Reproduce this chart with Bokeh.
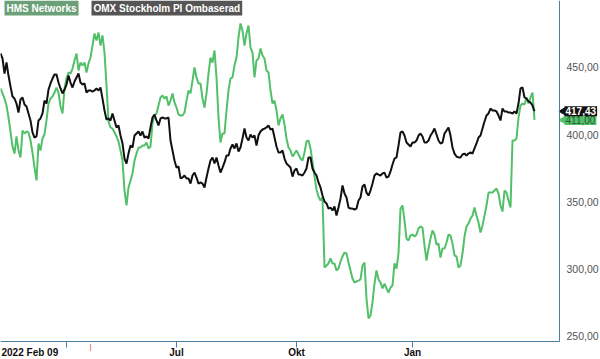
from bokeh.plotting import figure
from bokeh.models import Range1d, FixedTicker, Label
from bokeh.embed import file_html
from bokeh.resources import INLINE

# HMS Networks (rebased), one value per sampling step
hms = [434.4, 430.7, 426.9, 421.7, 412.8, 402.4, 391.2, 386.0, 398.7, 388.3,
       383.1, 403.1, 400.9, 402.4, 401.7, 395.7, 386.8, 375.6, 366.0, 393.5,
       388.3, 397.2, 400.2, 410.6, 423.2, 426.9, 428.4, 431.4, 435.1, 431.4,
       421.0, 415.8, 434.4, 441.8, 446.3, 445.5, 449.2, 455.2, 460.4, 447.8,
       453.7, 451.5, 453.7, 446.3, 453.0, 457.4, 466.3, 475.3, 470.1, 476.0,
       466.3, 473.8, 461.1, 436.6, 409.8, 405.4, 404.6, 401.7, 398.7, 395.0,
       388.3, 380.8, 358.5, 347.4, 360.8, 366.0, 371.2, 380.8, 386.0, 390.5,
       390.5, 392.0, 392.0, 394.2, 389.8, 391.3, 408.3, 414.3, 415.8, 421.7,
       427.7, 429.2, 426.9, 428.4, 421.7, 425.4, 430.7, 424.0, 420.2, 415.0,
       414.3, 414.3, 416.5, 425.4, 432.9, 430.7, 440.3, 450.0, 442.6, 438.1,
       438.1, 426.9, 420.2, 430.7, 445.5, 457.4, 453.7, 462.6, 442.6, 412.8,
       394.2, 400.9, 400.9, 418.0, 432.9, 441.8, 442.6, 451.5, 457.4, 472.3,
       482.7, 477.5, 466.3, 475.3, 481.2, 464.9, 461.1, 442.6, 455.2, 456.7,
       464.1, 458.9, 456.7, 447.8, 446.3, 432.9, 423.2, 425.4, 418.0, 406.9,
       412.1, 415.0, 407.6, 397.2, 390.5, 388.3, 383.8, 386.0, 388.3, 385.3,
       382.3, 380.8, 386.8, 395.0, 395.7, 389.8, 379.4, 368.9, 359.3, 354.1,
       351.1, 353.3, 301.3, 302.8, 304.3, 308.0, 304.3, 304.3, 299.1, 300.5,
       305.7, 309.5, 312.4, 311.7, 305.0, 299.1, 293.1, 290.1, 290.9, 291.6,
       292.4, 302.8, 305.0, 278.2, 263.4, 265.6, 275.3, 289.4, 299.1, 292.4,
       290.1, 285.7, 289.4, 285.7, 282.7, 286.4, 287.9, 304.3, 300.5, 311.7,
       345.1, 347.4, 336.2, 322.8, 321.4, 325.1, 325.8, 324.3, 325.8, 330.3,
       331.8, 331.0, 317.6, 306.5, 315.4, 322.8, 328.8, 325.8, 318.4, 319.1,
       308.7, 315.4, 315.4, 319.9, 325.8, 325.1, 319.1, 310.2, 309.5, 301.3,
       302.8, 311.7, 324.3, 331.8, 334.0, 337.7, 339.9, 345.9, 339.9, 334.7,
       327.3, 332.5, 339.9, 347.4, 357.0, 357.0, 357.0, 358.5, 360.0, 356.3,
       347.4, 342.9, 358.5, 357.0, 351.1, 345.9, 395.7, 395.7, 397.2, 412.8,
       421.7, 423.2, 422.5, 427.7, 423.2, 427.7, 431.4, 411.0]

# OMX Stockholm PI (rebased)
omx = [460.4, 456.7, 445.5, 453.7, 444.0, 435.9, 428.4, 426.9, 423.2, 416.5,
       426.2, 427.7, 422.5, 421.0, 415.8, 410.6, 401.7, 397.9, 398.7, 410.6,
       412.1, 415.8, 425.4, 423.2, 433.6, 438.1, 441.8, 444.8, 444.8, 438.8,
       434.4, 430.7, 433.6, 437.3, 444.0, 438.8, 435.1, 439.6, 442.6, 445.5,
       438.8, 437.3, 438.1, 431.4, 432.9, 432.9, 432.1, 432.9, 434.4, 432.9,
       435.1, 426.9, 418.0, 411.3, 412.1, 410.6, 415.8, 410.6, 405.4, 406.9,
       399.4, 393.5, 382.3, 378.6, 386.0, 392.0, 390.5, 399.4, 400.9, 402.4,
       399.4, 402.4, 397.9, 398.7, 397.2, 405.4, 412.8, 415.0, 410.6, 406.9,
       412.1, 412.8, 412.1, 412.1, 412.8, 395.7, 388.3, 380.8, 375.6, 376.4,
       367.5, 368.2, 369.7, 367.5, 367.5, 363.7, 369.7, 371.9, 368.2, 363.7,
       364.5, 363.7, 360.8, 368.2, 374.9, 380.8, 383.1, 378.6, 383.1, 377.1,
       371.9, 375.6, 379.4, 384.6, 384.6, 389.8, 392.7, 389.8, 393.5, 387.5,
       390.5, 397.2, 404.6, 397.9, 395.7, 400.2, 397.9, 399.4, 392.0, 399.4,
       402.4, 403.9, 404.6, 405.4, 406.9, 403.9, 404.6, 397.9, 391.3, 386.8,
       386.8, 388.3, 382.3, 378.6, 377.1, 375.6, 368.9, 373.4, 374.9, 370.4,
       370.4, 369.7, 371.9, 374.9, 383.1, 383.1, 374.9, 371.9, 369.7, 364.5,
       360.8, 354.8, 350.4, 348.9, 345.1, 345.9, 343.7, 346.6, 339.9, 345.9,
       352.6, 362.3, 356.3, 353.3, 345.9, 345.1, 345.1, 344.4, 345.1, 351.1,
       353.3, 361.5, 363.0, 357.0, 354.8, 358.5, 363.7, 369.7, 371.2, 370.4,
       369.7, 371.2, 371.9, 368.2, 368.9, 372.7, 377.9, 382.3, 383.1, 392.0,
       401.7, 402.4, 399.4, 394.2, 392.7, 391.3, 394.2, 394.2, 395.7, 399.4,
       400.9, 398.7, 394.2, 394.2, 395.7, 399.4, 401.7, 404.6, 400.2, 395.7,
       393.5, 394.2, 400.9, 403.1, 405.4, 399.4, 390.5, 386.0, 383.8, 383.1,
       383.1, 385.3, 386.0, 384.6, 386.0, 386.8, 386.0, 389.8, 393.5, 397.9,
       399.4, 404.6, 409.8, 414.3, 415.8, 419.5, 418.0, 418.0, 417.3, 414.3,
       410.6, 419.5, 417.3, 417.3, 416.5, 416.5, 415.8, 417.3, 415.8, 423.2,
       434.4, 435.1, 427.7, 426.9, 424.7, 424.0, 421.7, 417.43]

series_names = ["HMS Networks", "OMX Stockholm PI Ombaserad"]
last_hms = 411.00
last_omx = 417.43

# x-axis ticks (sampling-step positions) and their labels
x_tick_pos = [33, 88, 148, 206]
x_tick_text = ["", "Jul", "Okt", "Jan"]
start_label = "2022 Feb 09"
event_pos = [45]
y_ticks = [250, 300, 350, 400, 450]

GREEN = "#52c069"
AXIS = "#4a7ea3"
FONT = "Liberation Sans"

# plotting area limits (axes are drawn at these positions)
X0, X1 = 0, 279.5
Y0, Y1 = 246.3, 499.8

x = list(range(len(hms)))

p = figure(frame_width=600, frame_height=359, output_backend="svg", toolbar_location=None,
           x_axis_location="below", y_axis_location="right",
           x_range=Range1d(X0, 300), y_range=Range1d(232.9, Y1),
           min_border_left=0, min_border_top=0, min_border_right=0, min_border_bottom=0)
p.outline_line_color = None
p.xgrid.visible = False
p.ygrid.visible = False
p.background_fill_color = "white"
p.border_fill_color = "white"

p.line(x, hms, color=GREEN, line_width=2)
p.line(x, omx, color="#111111", line_width=2)

ya = p.yaxis[0]
ya.fixed_location = X1
ya.bounds = (Y0, Y1)
ya.ticker = FixedTicker(ticks=y_ticks)
ya.major_label_overrides = {v: f"{v},00" for v in y_ticks}
ya.axis_line_color = AXIS
ya.major_tick_in = 0
ya.major_tick_out = 0
ya.minor_tick_line_color = None
ya.major_label_standoff = 7
ya.major_label_text_font = FONT
ya.major_label_text_font_size = "10.5px"
ya.major_label_text_color = "#555555"

xa = p.xaxis[0]
xa.fixed_location = Y0
xa.bounds = (X0, X1)
xa.ticker = FixedTicker(ticks=x_tick_pos)
xa.major_label_overrides = {pos: t for pos, t in zip(x_tick_pos, x_tick_text)}
xa.axis_line_color = AXIS
xa.major_tick_line_color = AXIS
xa.major_tick_in = 0
xa.major_tick_out = 6
xa.minor_tick_line_color = None
xa.major_label_standoff = 0
xa.major_label_text_font = FONT
xa.major_label_text_font_size = "10px"
xa.major_label_text_font_style = "bold"
xa.major_label_text_color = "#111111"

# start date label, left aligned
p.add_layout(Label(x=X0, y=Y0, text=start_label, x_offset=1,
                   text_font=FONT, text_font_size="10px", text_font_style="bold",
                   text_color="#111111", text_align="left", text_baseline="top",
                   y_offset=-6))
for ep in event_pos:
    p.add_layout(Label(x=ep, y=Y0, text="|", text_font=FONT,
                       text_font_size="8px", text_color="#e04040",
                       text_align="center", text_baseline="top", y_offset=-1))

# legend boxes
def legend_box(xoff, text, fill, under):
    p.add_layout(Label(x=X0, y=Y1, text=text, x_offset=xoff, y_offset=-2,
                       text_font=FONT, text_font_size="10px", text_font_style="bold",
                       text_alpha=0, text_align="left", text_baseline="top",
                       background_fill_color=under, padding=2))
    p.add_layout(Label(x=X0, y=Y1, text=text, x_offset=xoff, y_offset=0,
                       text_font=FONT, text_font_size="10px", text_font_style="bold",
                       text_color="white", text_align="left", text_baseline="top",
                       background_fill_color=fill, padding=2))

legend_box(4, series_names[0], "#6a9f77", GREEN)
legend_box(91, series_names[1], "#555555", "#222222")

# last value tags
TAG_X = X1 + 2
p.scatter([TAG_X], [last_hms], marker="triangle", angle=1.5708, size=8, color=GREEN)
p.add_layout(Label(x=X1, y=last_hms, text=f"{last_hms:.2f}".replace(".", ","),
                   x_offset=5, text_font=FONT, text_font_size="10px",
                   text_color="#2a5a34", text_align="left", text_baseline="middle",
                   background_fill_color=GREEN, padding=1))
p.scatter([TAG_X], [last_omx], marker="triangle", angle=1.5708, size=8, color="#111111")
p.add_layout(Label(x=X1, y=last_omx, text=f"{last_omx:.2f}".replace(".", ","),
                   x_offset=5, text_font=FONT, text_font_size="10px", text_font_style="bold",
                   text_color="white", text_align="left", text_baseline="middle",
                   background_fill_color="#111111", padding=1))

open("out.html", "w").write(file_html(p, INLINE))
